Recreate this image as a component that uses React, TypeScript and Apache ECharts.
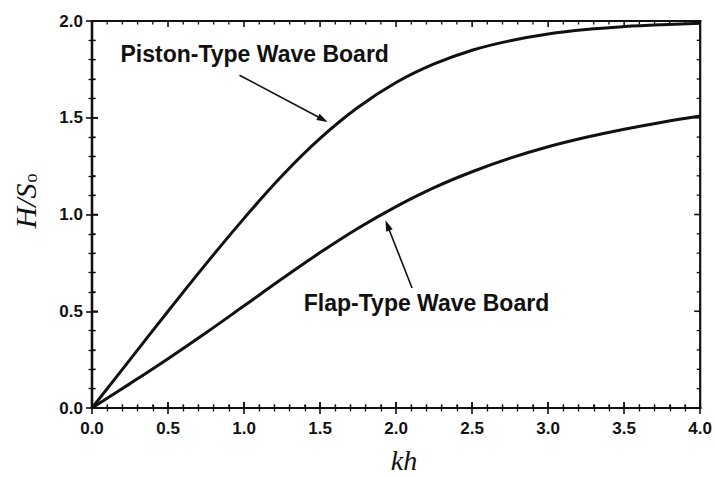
import React, { useEffect, useRef } from "react";
import * as echarts from "echarts";

// kh values (x) and curve values
const khValues = [0, 0.25, 0.5, 0.75, 1.0, 1.25, 1.5, 1.75, 2.0, 2.25, 2.5, 2.75, 3.0, 3.25, 3.5, 3.75, 4.0];
const pistonValues = [0, 0.25, 0.5, 0.745, 0.98, 1.2, 1.393, 1.554, 1.682, 1.778, 1.849, 1.898, 1.933, 1.956, 1.971, 1.981, 1.988];
const flapValues = [0, 0.126, 0.255, 0.389, 0.528, 0.668, 0.803, 0.929, 1.041, 1.139, 1.221, 1.291, 1.35, 1.399, 1.441, 1.477, 1.509];

const xMin = 0, xMax = 4, xStep = 0.5;
const yMin = 0, yMax = 2, yStep = 0.5;
const minorPerMajor = 5;

const pistonLabel = "Piston-Type Wave Board";
const flapLabel = "Flap-Type Wave Board";

// annotation anchors in data coordinates
const pistonTextAt = [1.07, 1.83];
const pistonArrow = [[0.97, 1.72], [1.55, 1.478]];
const flapTextAt = [2.2, 0.545];
const flapArrow = [[2.105, 0.62], [1.93, 0.97]];

const INK = "#111111";
const MAJOR_LEN = 6;
const MINOR_LEN = 3.5;
const FRAME_W = 2.2;

function axisCommon(showLabel: boolean, margin: number) {
  return {
    splitLine: { show: false },
    axisLine: { show: true, lineStyle: { color: INK, width: FRAME_W } },
    axisTick: { show: true, inside: true, length: MAJOR_LEN, lineStyle: { color: INK, width: 1.6 } },
    minorTick: { show: true, splitNumber: minorPerMajor, length: MINOR_LEN, lineStyle: { color: INK, width: 1.3 } },
    axisLabel: showLabel
      ? {
          show: true,
          margin,
          color: INK,
          fontFamily: "Liberation Sans, Arial, sans-serif",
          fontWeight: "bold",
          fontSize: 17,
          formatter: (v: number) => v.toFixed(1),
        }
      : { show: false },
  };
}

export default function App() {
  const ref = useRef<HTMLDivElement>(null);
  useEffect(() => {
    if (!ref.current) return;
    const chart = echarts.init(ref.current, null, { renderer: "svg" });
    const pistonData = khValues.map((x, i) => [x, pistonValues[i]]);
    const flapData = khValues.map((x, i) => [x, flapValues[i]]);
    chart.setOption({
      animation: false,
      grid: { left: 92, right: 13, top: 21, bottom: 69 },
      xAxis: [
        { type: "value", min: xMin, max: xMax, interval: xStep, position: "bottom", ...axisCommon(true, 12) },
        { type: "value", min: xMin, max: xMax, interval: xStep, position: "top", ...axisCommon(false, 0) },
      ],
      yAxis: [
        { type: "value", min: yMin, max: yMax, interval: yStep, position: "left", ...axisCommon(true, 9) },
        { type: "value", min: yMin, max: yMax, interval: yStep, position: "right", ...axisCommon(false, 0) },
      ],
      series: [
        { name: "Piston", type: "line", data: pistonData, smooth: 0.4, showSymbol: false, lineStyle: { color: INK, width: 3 } },
        { name: "Flap", type: "line", data: flapData, smooth: 0.4, showSymbol: false, lineStyle: { color: INK, width: 3 } },
      ],
    });

    const toPx = (p: number[]) => chart.convertToPixel({ xAxisIndex: 0, yAxisIndex: 0 }, p) as number[];
    const bl = toPx([xMin, yMin]);
    const tr = toPx([xMax, yMax]);

    // frame lines and inward ticks on all four sides, placed through the axes' scales
    const frame: any[] = [
      { type: "rect", shape: { x: bl[0] - FRAME_W / 2, y: tr[1] - FRAME_W / 2, width: tr[0] - bl[0] + FRAME_W, height: FRAME_W }, style: { fill: INK } },
      { type: "rect", shape: { x: tr[0] - FRAME_W / 2, y: tr[1] - FRAME_W / 2, width: FRAME_W, height: bl[1] - tr[1] + FRAME_W }, style: { fill: INK } },
      { type: "rect", shape: { x: bl[0] - FRAME_W / 2, y: bl[1] - FRAME_W / 2, width: tr[0] - bl[0] + FRAME_W, height: FRAME_W }, style: { fill: INK } },
      { type: "rect", shape: { x: bl[0] - FRAME_W / 2, y: tr[1] - FRAME_W / 2, width: FRAME_W, height: bl[1] - tr[1] + FRAME_W }, style: { fill: INK } },
    ];
    const nx = Math.round(((xMax - xMin) / xStep) * minorPerMajor);
    for (let i = 0; i <= nx; i++) {
      const v = xMin + (i * xStep) / minorPerMajor;
      const x = toPx([v, yMin])[0];
      const major = i % minorPerMajor === 0;
      const len = major ? MAJOR_LEN : MINOR_LEN;
      const w = major ? 1.6 : 1.3;
      frame.push({ type: "rect", shape: { x: x - w / 2, y: bl[1] - len, width: w, height: len }, style: { fill: INK } });
      frame.push({ type: "rect", shape: { x: x - w / 2, y: tr[1], width: w, height: len }, style: { fill: INK } });
    }
    const ny = Math.round(((yMax - yMin) / yStep) * minorPerMajor);
    for (let i = 0; i <= ny; i++) {
      const v = yMin + (i * yStep) / minorPerMajor;
      const y = toPx([xMin, v])[1];
      const major = i % minorPerMajor === 0;
      const len = major ? MAJOR_LEN : MINOR_LEN;
      const w = major ? 1.6 : 1.3;
      frame.push({ type: "rect", shape: { x: bl[0], y: y - w / 2, width: len, height: w }, style: { fill: INK } });
      frame.push({ type: "rect", shape: { x: tr[0] - len, y: y - w / 2, width: len, height: w }, style: { fill: INK } });
    }

    const arrow = (seg: number[][]) => {
      const s = toPx(seg[0]);
      const t = toPx(seg[1]);
      const dx = t[0] - s[0], dy = t[1] - s[1];
      const len = Math.hypot(dx, dy);
      const ux = dx / len, uy = dy / len;
      const px = -uy, py = ux;
      const L = 11, W = 3.5;
      const hx = t[0] - ux * L, hy = t[1] - uy * L;
      return [
        { type: "line", shape: { x1: s[0], y1: s[1], x2: hx + ux * 2, y2: hy + uy * 2 }, style: { stroke: INK, lineWidth: 1.6 }, z: 10 },
        { type: "polygon", shape: { points: [[t[0], t[1]], [hx + px * W, hy + py * W], [hx - px * W, hy - py * W]] }, style: { fill: INK }, z: 10 },
      ];
    };
    const pT = toPx(pistonTextAt);
    const fT = toPx(flapTextAt);
    const annFont = { fill: INK, font: "bold 23px 'Liberation Sans', Arial, sans-serif", align: "center", verticalAlign: "middle" };
    chart.setOption({
      graphic: [
        ...frame,
        { type: "text", x: pT[0], y: pT[1], style: { text: pistonLabel, ...annFont }, z: 10 },
        { type: "text", x: fT[0], y: fT[1], style: { text: flapLabel, ...annFont }, z: 10 },
        ...arrow(pistonArrow),
        ...arrow(flapArrow),
        {
          type: "text", x: 25, y: 201, rotation: Math.PI / 2,
          style: {
            text: "{a|H/S}{b|o}",
            align: "center", verticalAlign: "middle",
            rich: {
              a: { fontFamily: "Liberation Serif, serif", fontStyle: "italic", fontSize: 30, fill: INK, color: INK },
              b: { fontFamily: "Liberation Serif, serif", fontSize: 18, fill: INK, color: INK, padding: [12, 0, 0, 1] },
            },
          },
        },
        {
          type: "text", x: 404, y: 460,
          style: { text: "kh", fill: INK, font: "italic 28px 'Liberation Serif', serif", align: "center", verticalAlign: "middle" },
        },
      ],
    });
    return () => chart.dispose();
  }, []);
  return <div ref={ref} style={{ position: "absolute", left: 0, top: 0, width: 715, height: 477 }} />;
}
